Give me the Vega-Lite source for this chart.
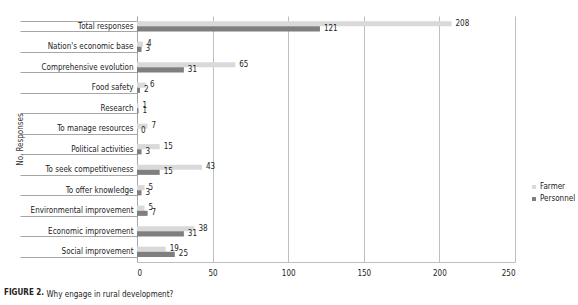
{
  "$schema": "https://vega.github.io/schema/vega-lite/v6.json",
  "autosize": "none",
  "width": 378,
  "height": 246,
  "padding": {"left": 137, "top": 16, "right": 63, "bottom": 43},
  "background": "white",
  "config": {
    "font": "DejaVu Sans Condensed, Liberation Sans",
    "view": {"stroke": null}
  },
  "title": {
    "text": "FIGURE 2.",
    "orient": "bottom",
    "anchor": "start",
    "frame": "group",
    "dx": -133,
    "offset": -9,
    "fontSize": 8,
    "fontWeight": "bold",
    "font": "DejaVu Sans Condensed, Liberation Sans",
    "color": "#222"
  },
  "data": {
    "values": [
      {"reason": "Total responses", "group": "Farmer", "value": 208},
      {"reason": "Total responses", "group": "Personnel", "value": 121},
      {"reason": "Nation's economic base", "group": "Farmer", "value": 4},
      {"reason": "Nation's economic base", "group": "Personnel", "value": 3},
      {"reason": "Comprehensive evolution", "group": "Farmer", "value": 65},
      {"reason": "Comprehensive evolution", "group": "Personnel", "value": 31},
      {"reason": "Food safety", "group": "Farmer", "value": 6},
      {"reason": "Food safety", "group": "Personnel", "value": 2},
      {"reason": "Research", "group": "Farmer", "value": 1},
      {"reason": "Research", "group": "Personnel", "value": 1},
      {"reason": "To manage resources", "group": "Farmer", "value": 7},
      {"reason": "To manage resources", "group": "Personnel", "value": 0},
      {"reason": "Political activities", "group": "Farmer", "value": 15},
      {"reason": "Political activities", "group": "Personnel", "value": 3},
      {"reason": "To seek competitiveness", "group": "Farmer", "value": 43},
      {"reason": "To seek competitiveness", "group": "Personnel", "value": 15},
      {"reason": "To offer knowledge", "group": "Farmer", "value": 5},
      {"reason": "To offer knowledge", "group": "Personnel", "value": 3},
      {"reason": "Environmental improvement", "group": "Farmer", "value": 5},
      {"reason": "Environmental improvement", "group": "Personnel", "value": 7},
      {"reason": "Economic improvement", "group": "Farmer", "value": 38},
      {"reason": "Economic improvement", "group": "Personnel", "value": 31},
      {"reason": "Social improvement", "group": "Farmer", "value": 19},
      {"reason": "Social improvement", "group": "Personnel", "value": 25}
    ]
  },
  "encoding": {
    "y": {
      "field": "reason",
      "type": "nominal",
      "sort": null,
      "scale": {"paddingInner": 0.5, "paddingOuter": 0.25},
      "axis": {
        "title": "No. Responses",
        "titleFontSize": 8,
        "titleFontWeight": "normal",
        "titleColor": "#333",
        "titleX": -113,
        "titleY": 123,
        "titleAngle": -90,
        "titleAlign": "center",
        "titleBaseline": "bottom",
        "tickBand": "extent",
        "tickSize": 117,
        "tickColor": "#a6a6a6",
        "domainColor": "#a6a6a6",
        "labelPadding": -113,
        "labelFontSize": 8,
        "labelColor": "#222",
        "labelLimit": 200
      }
    },
    "x": {
      "field": "value",
      "type": "quantitative",
      "scale": {"domain": [0, 250], "nice": false},
      "axis": {
        "values": [0, 50, 100, 150, 200, 250],
        "title": "Why engage in rural development?",
        "titleFontSize": 8,
        "titleFontWeight": "normal",
        "titleColor": "#222",
        "titleX": -91,
        "titleY": 34,
        "titleAlign": "left",
        "titleBaseline": "alphabetic",
        "ticks": false,
        "grid": true,
        "gridColor": "#bfbfbf",
        "domainColor": "#bfbfbf",
        "labelFontSize": 8,
        "labelColor": "#222",
        "labelPadding": 7
      }
    },
    "yOffset": {"field": "group", "type": "nominal", "sort": ["Farmer", "Personnel"]}
  },
  "layer": [
    {
      "mark": {"type": "bar"},
      "encoding": {
        "color": {
          "field": "group",
          "type": "nominal",
          "scale": {"domain": ["Farmer", "Personnel"], "range": ["#d9d9d9", "#7f7f7f"]},
          "legend": {
            "title": null,
            "orient": "none",
            "legendX": 393,
            "legendY": 167,
            "symbolType": "square",
            "symbolSize": 16,
            "labelFontSize": 8,
            "labelColor": "#222",
            "rowPadding": 4,
            "labelOffset": 2
          }
        }
      }
    },
    {
      "mark": {"type": "text", "align": "left", "dx": 4, "dy": 0, "fontSize": 8, "color": "#222"},
      "encoding": {
        "text": {"field": "value", "type": "quantitative"}
      }
    }
  ]
}
